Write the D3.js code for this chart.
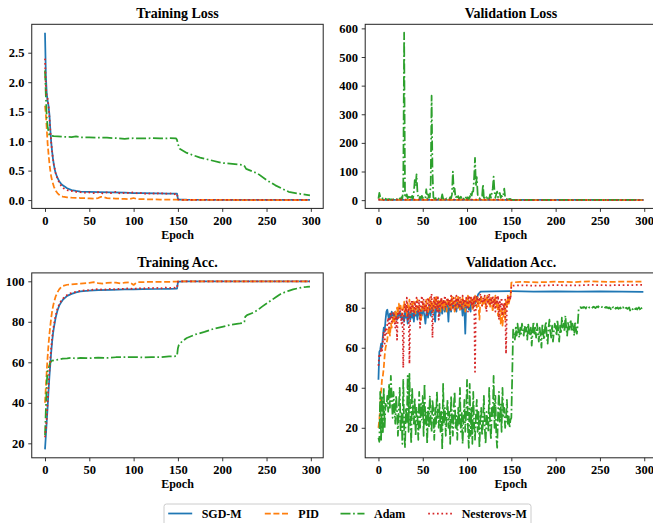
<!DOCTYPE html>
<html><head><meta charset="utf-8">
<script src="https://cdn.jsdelivr.net/npm/d3@7"></script>
<style>
body{margin:0;background:#fff;}
svg text{font-family:"Liberation Serif","Times New Roman",serif;font-weight:bold;fill:#000;}
</style></head><body>
<svg id="c" width="653" height="523"></svg>
<script>
// ---------------- DATA ----------------
const seriesNames = ["SGD-M", "PID", "Adam", "Nesterovs-M"];
const panelTitles = ["Training Loss", "Validation Loss", "Training Acc.", "Validation Acc."];
const xTicks = [0, 50, 100, 150, 200, 250, 300];
const yTicksTrainLoss = [0.0, 0.5, 1.0, 1.5, 2.0, 2.5];
const yTicksValLoss = [0, 100, 200, 300, 400, 500, 600];
const yTicksTrainAcc = [20, 40, 60, 80, 100];
const yTicksValAcc = [20, 40, 60, 80];

// Training loss  [epoch, value]
const sgdTrainLoss = [[0,2.84],[1,2.1],[2,1.8],[3,1.68],[4,1.6],[5,1.45],[6,1.2],[7,0.98],[8,0.83],[9,0.7],[10,0.6],[11,0.52],[12,0.46],[14,0.38],[16,0.32],[18,0.28],[20,0.25],[25,0.2],[30,0.17],[35,0.155],[40,0.145],[50,0.14],[60,0.135],[75,0.13],[90,0.125],[100,0.12],[110,0.118],[125,0.115],[140,0.11],[149,0.108],[150,0.02],[151,0.01],[160,0.006],[200,0.004],[299,0.003]];
const pidTrainLoss = [[0,1.6],[1,1.45],[2,1.2],[3,0.95],[4,0.78],[5,0.62],[6,0.5],[7,0.4],[8,0.33],[10,0.23],[12,0.16],[14,0.12],[16,0.09],[18,0.07],[20,0.06],[25,0.045],[30,0.04],[40,0.035],[50,0.03],[55,0.025],[60,0.035],[63,0.055],[66,0.05],[70,0.035],[80,0.025],[90,0.02],[95,0.015],[100,0.035],[103,0.02],[110,0.015],[130,0.01],[149,0.008],[150,0.002],[299,0.001]];
const adamTrainLoss = [[0,2.2],[1,1.75],[2,1.4],[3,1.25],[4,1.15],[5,1.1],[7,1.09],[10,1.085],[20,1.075],[30,1.07],[35,1.08],[40,1.065],[50,1.065],[60,1.06],[70,1.058],[80,1.05],[90,1.04],[100,1.05],[110,1.045],[120,1.05],[130,1.045],[140,1.05],[148,1.045],[149,1.02],[150,0.95],[152,0.87],[160,0.8],[175,0.72],[200,0.63],[224,0.595],[225,0.58],[227,0.53],[240,0.45],[250,0.34],[260,0.25],[275,0.14],[290,0.1],[299,0.08]];
const nesTrainLoss = [[0,2.4],[1,1.9],[2,1.75],[3,1.72],[4,1.6],[5,1.4],[6,1.18],[7,0.98],[8,0.82],[9,0.7],[10,0.6],[12,0.46],[14,0.37],[16,0.3],[18,0.25],[20,0.21],[22,0.19],[25,0.17],[28,0.15],[30,0.155],[35,0.14],[40,0.135],[45,0.125],[50,0.13],[55,0.12],[60,0.135],[65,0.115],[70,0.13],[75,0.12],[80,0.14],[85,0.11],[90,0.125],[95,0.12],[100,0.13],[105,0.11],[110,0.125],[115,0.1],[120,0.12],[125,0.105],[130,0.125],[135,0.1],[140,0.12],[145,0.095],[149,0.11],[150,0.015],[152,0.005],[299,0.002]];

// Validation loss
const sgdValLoss = [[0,1.6],[5,1.0],[10,0.8],[20,0.9],[50,0.8],[100,0.7],[150,0.5],[299,0.55]];
const pidValLoss = [[0,2.5],[5,1.2],[20,0.8],[50,0.9],[100,0.8],[150,0.35],[299,0.4]];
const adamValLossHead = [5,25,12,8,10,4,6,3,5,2, 3,2,4,3,2,3,2,3,4,2, 5,3,8,4,6,3,10,5,40,585,
  15,8,20,6,12,4,18,8,15,5, 30,70,50,90,30,8,5,12,6,15, 8,4,10,10,38,6,20,8,10,60,
  365,100,10,6,4,8,5,3,6,4, 8,5,20,6,3,8,4,6,3,5, 4,10,6,20,100,30,40,8,12,5,
  14,4,8,12,5,10,6,4,12,8, 5,10,4,8,25,12,30,30,80,148, 50,80,20,10,6,8,15,15,55,8,
  8,4,10,6,12,5,20,8,25,40, 82,30,8,22,30,10,18,25,8,15, 10,20,40,10,6,3,10,5,3,4, 1];
const adamValLossTail = [[151,1.2],[200,1.1],[250,1.0],[299,1.05]];
const nesValLoss = [[0,1.5],[10,0.9],[28,2.0],[35,1.8],[61,1.3],[109,2.2],[144,1.6],[150,0.4],[299,0.45]];

// Training accuracy
const sgdTrainAcc = [[0,17],[1,24],[2,31],[3,38],[4,46],[5,53],[6,59],[7,65],[8,70],[9,74],[10,77],[12,82],[14,85.5],[16,88],[18,89.5],[20,90.8],[25,92.8],[30,93.8],[35,94.5],[40,95],[50,95.4],[60,95.6],[75,95.8],[90,96],[100,96],[110,96.1],[125,96.2],[140,96.3],[149,96.4],[150,99.5],[151,99.9],[160,100],[299,100]];
const pidTrainAcc = [[0,40],[1,48],[2,56],[3,63],[4,69],[5,74],[6,78],[7,82],[8,85],[9,87.5],[10,89.5],[12,92.5],[14,94.5],[16,96],[18,97],[20,97.7],[25,98.3],[30,98.5],[40,98.9],[50,99.2],[55,99.6],[60,99.1],[65,98.9],[70,99.2],[80,99.4],[85,99],[90,99.3],[95,99.5],[98,98.8],[100,98.2],[102,98.9],[105,99.6],[120,99.7],[149,99.8],[150,100],[299,100]];
const adamTrainAcc = [[0,24],[1,37],[2,50],[3,56],[4,57],[5,58.5],[6,60],[8,60.8],[10,61],[15,61.3],[20,61.8],[25,62],[30,62.3],[35,61.8],[40,62.2],[50,62],[60,62.3],[70,62.2],[80,62.5],[90,62.6],[100,62.6],[110,62.4],[120,62.5],[130,62.5],[140,62.9],[148,63],[149,63.2],[150,67],[151,68.5],[155,70.5],[160,72],[170,73.8],[180,75],[190,76.5],[200,77.5],[210,78.6],[220,79.2],[224,79.5],[225,80],[226,82.5],[228,83.3],[235,84.5],[240,85.8],[245,87.5],[250,89],[255,90.5],[260,92],[265,93.5],[270,94.5],[275,95.3],[280,96],[285,96.5],[290,97],[295,97.2],[299,97.4]];
const nesTrainAcc = [[0,23],[1,27],[2,33],[3,41],[4,49],[5,56],[6,62],[7,67],[8,72],[9,75.5],[10,78.5],[12,83],[14,86.5],[16,88.5],[18,90.2],[20,91.3],[22,92.3],[25,93.2],[28,94],[30,94.2],[35,94.8],[40,95.3],[45,95.5],[50,95.6],[55,95.9],[60,96.2],[65,95.8],[70,96.1],[75,96.3],[80,96],[85,96.4],[90,96.2],[95,96.6],[100,96.1],[105,96.7],[110,96.3],[115,96.8],[120,96.5],[125,96.9],[130,96.4],[135,97],[140,96.6],[145,96.9],[149,96.7],[150,99.8],[152,100],[299,100]];

// Validation accuracy (per-epoch heads + sparse tails)
const sgdValAccHead = [44,58,59,62,60,66,70,68,74,78, 79,76,74,77,75,78,76,77,75,78, 76,74,77,76,78,75,77,74,76,73,
  78,75,77,72,78,76,74,79,75,77, 73,79,76,78,74,80,77,75,79,76, 80,78,76,72,77,79,75,81,78,76,
  80,78,81,77,73,80,78,82,79,76, 81,79,77,82,80,78,82,79,81,73, 82,80,78,82,80,83,79,81,78,83,
  80,82,79,83,81,76,82,80,67,82, 80,83,79,81,78,84,82,80,84,82, 85,83,86,87,87.5,88];
const sgdValAccTail = [[130,88.2],[150,88.3],[175,88.1],[200,88.2],[225,88.0],[250,88.2],[275,88.1],[299,87.9]];
const pidValAccHead = [20,24,30,38,44,46,50,56,60,62, 64,68,70,66,72,70,74,76,72,78, 75,80,77,82,79,81,78,76,80,83,
  78,81,76,82,79,84,77,80,82,78, 83,80,77,82,84,79,81,76,73,80, 83,79,82,78,84,80,77,82,85,79,
  83,81,78,84,80,86,81,79,84,82, 78,85,80,83,79,84,81,78,85,82, 80,84,79,86,81,83,78,85,82,80,
  86,82,79,84,81,85,80,83,78,84, 81,86,80,83,82,85,79,84,81,86, 83,80,85,82,74,84,86,81,84,82,
  85,80,84,86,82,84,80,85,83,78, 84,82,86,80,83,76,82,78,72,80, 71,76,82,74,84,80,86,82,84,85];
const pidValAccTail = [[150,92.6],[160,92.9],[180,92.7],[200,93.0],[220,92.8],[240,93.2],[260,92.9],[280,93.1],[299,93.0]];
const adamValAcc = [15,13,38,14,36,17,40,20,32,30, 36,28,42,30,46,35,25,38,30,22, 36,28,16,30,40,18,28,12,44,20,
  10,30,22,46,18,47,24,12,40,28, 22,35,16,30,26,14,38,20,32,24, 36,16,42,22,28,12,30,20,36,24,
  18,34,28,14,30,22,38,26,20,32, 18,28,9.2,42,22,30,16,26,34,20, 28,12,36,24,16,30,38,20,26,14,
  30,22,40,18,28,12,24,34,18,28, 44,20,10,42,16,30,12,38,22,14, 26,34,18,28,10,24,30,16,22,36,
  20,12,28,24,18,40,22,14,30,26, 46,20,36,16,10,28,38,22,32,18, 40,26,30,20,24,34,22,26,20,24,
  25,46,69,68,64,70,66,72,68,65, 70,67,72,69,66,71,68,70,64,72, 68,66,70,61,68,73,67,70,65,72,
  68,63,70,66,60,72,67,64,70,73, 66,62,70,74,68,65,71,63,68,72, 70,66,74,69,63,71,67,75,70,72,
  68,76,70,66,73,69,71,74,68,72, 70,66,73,69,67,72,79.5,80,80.3,79.8, 80.2,79.9,80.4,80.1,79.6,80.3,80,79.5,80.2,80.4,
  80,79.7,80.3,80.5,80.1,79.8,80.4,80.6,80.2,80.8, 81,80.6,80.3,80.7,80.2,80.5,80,80.4,79.9,80.2,
  79.7,80.1,79.5,78.8,79.9,80.3,79.6,79.2,80,79.7, 80.2,79.4,79.8,80.1,79.3,79.9,80.3,79.5,79.1,79.8,
  80,79.4,79.7,80.2,78.6,79.5,79.9,79.2,80.1,79.6, 79.3,79.8,79.1,79.7,80.2,79.4,78.5,79.9,80.3,79.6];
const nesValAccHead = [51,57,55,60,58,63,68,62,70,67, 72,75,70,74,77,73,76,78,74,70, 76,64,78,75,80,77,72,79,50,76,
  82,78,85,74,80,52,82,78,84,80, 76,83,79,85,81,77,84,70,82,86, 80,84,78,83,81,76,85,82,79,84,
  87,65,82,85,80,84,78,86,74,83, 81,85,79,84,82,86,80,83,85,81, 84,78,86,82,80,85,83,79,86,82,
  84,80,85,83,79,86,82,84,80,85, 83,78,86,82,85,81,84,80,86,48, 84,86,82,85,83,87,84,81,85,83,
  86,82,78,85,83,87,81,84,82,86, 80,84,78,85,82,86,74,83,80,85, 76,82,79,84,57,81,85,83,86,84];
const nesValAccTail = [[150,91],[160,91.2],[180,91],[200,91.3],[220,91.1],[240,91.4],[260,91.2],[280,91.3],[299,91.4]];

// ---------------- ASSEMBLY ----------------
const perEpoch = (vals, start = 0) => vals.map((v, i) => [start + i, v]);

const colors = ["#1f77b4", "#ff7f0e", "#2ca02c", "#d62728"];
const dashes = [null, "6,2.6", "10,2.6,1.7,2.6", "1.7,2.7"];
const lineW = 1.75;

const panels = [
  {title: panelTitles[0], left: 31.75, right: 323.2, top: 24.3, bottom: 208.4, yTicks: yTicksTrainLoss, fmt: d3.format(".1f"),
   series: [sgdTrainLoss, pidTrainLoss, adamTrainLoss, nesTrainLoss]},
  {title: panelTitles[1], left: 365.2, right: 656.6, top: 24.3, bottom: 208.4, yTicks: yTicksValLoss, fmt: d3.format("d"),
   series: [sgdValLoss, pidValLoss, perEpoch(adamValLossHead).concat(adamValLossTail), nesValLoss]},
  {title: panelTitles[2], left: 31.75, right: 323.2, top: 272.9, bottom: 457.8, yTicks: yTicksTrainAcc, fmt: d3.format("d"),
   series: [sgdTrainAcc, pidTrainAcc, adamTrainAcc, nesTrainAcc]},
  {title: panelTitles[3], left: 365.2, right: 656.6, top: 272.9, bottom: 457.8, yTicks: yTicksValAcc, fmt: d3.format("d"),
   series: [perEpoch(sgdValAccHead).concat(sgdValAccTail), perEpoch(pidValAccHead).concat(pidValAccTail), perEpoch(adamValAcc), perEpoch(nesValAccHead).concat(nesValAccTail)]}
];

const svg = d3.select("#c");
const defs = svg.append("defs");

panels.forEach((p, pi) => {
  const xMin = 0, xMax = 299, xPad = (xMax - xMin) * 0.05;
  const x = d3.scaleLinear().domain([xMin - xPad, xMax + xPad]).range([p.left, p.right]);
  const allY = p.series.flat().map(d => d[1]);
  const [yMin, yMax] = d3.extent(allY);
  const yPad = (yMax - yMin) * 0.05;
  const y = d3.scaleLinear().domain([yMin - yPad, yMax + yPad]).range([p.bottom, p.top]);

  defs.append("clipPath").attr("id", "clip" + pi).append("rect")
    .attr("x", p.left).attr("y", p.top).attr("width", p.right - p.left).attr("height", p.bottom - p.top);

  const g = svg.append("g");
  const line = d3.line().x(d => x(d[0])).y(d => y(d[1]));
  const lg = g.append("g").attr("clip-path", `url(#clip${pi})`);
  p.series.forEach((s, si) => {
    lg.append("path").datum(s).attr("d", line)
      .attr("fill", "none").attr("stroke", colors[si]).attr("stroke-width", lineW)
      .attr("stroke-linejoin", "round")
      .attr("stroke-dasharray", dashes[si]);
  });

  const xa = g.append("g").attr("transform", `translate(0,${p.bottom})`)
    .call(d3.axisBottom(x).tickValues(xTicks).tickSize(3.5).tickPadding(3.8).tickFormat(d3.format("d")));
  const ya = g.append("g").attr("transform", `translate(${p.left},0)`)
    .call(d3.axisLeft(y).tickValues(p.yTicks).tickSize(3.5).tickPadding(3.8).tickFormat(p.fmt));
  [xa, ya].forEach(a => {
    a.select(".domain").remove();
    a.selectAll(".tick line").attr("stroke", "#222").attr("stroke-width", 0.9);
    a.selectAll("text").attr("font-size", 12.5).attr("font-family", null).style("fill", "#000");
  });

  g.append("rect").attr("x", p.left).attr("y", p.top)
    .attr("width", p.right - p.left).attr("height", p.bottom - p.top)
    .attr("fill", "none").attr("stroke", "#222").attr("stroke-width", 1);

  g.append("text").attr("x", (p.left + p.right) / 2).attr("y", p.top - 6.3)
    .attr("text-anchor", "middle").attr("font-size", 14).text(p.title);
  g.append("text").attr("x", (p.left + p.right) / 2).attr("y", p.bottom + 30.6)
    .attr("text-anchor", "middle").attr("font-size", 12).text("Epoch");
});

// legend
const leg = svg.append("g");
leg.append("rect").attr("x", 164).attr("y", 504).attr("width", 367).attr("height", 30)
  .attr("rx", 2.5).attr("fill", "#fff").attr("fill-opacity", 0.8).attr("stroke", "#cccccc").attr("stroke-width", 1);
const legTextX = [201.7, 298.3, 374, 461.7];
seriesNames.forEach((n, i) => {
  leg.append("line").attr("x1", legTextX[i] - 33.5).attr("x2", legTextX[i] - 9.5)
    .attr("y1", 513.5).attr("y2", 513.5)
    .attr("stroke", colors[i]).attr("stroke-width", lineW).attr("stroke-dasharray", dashes[i]);
  leg.append("text").attr("x", legTextX[i]).attr("y", 517.6).attr("font-size", 12).text(n);
});
</script>
</body></html>
